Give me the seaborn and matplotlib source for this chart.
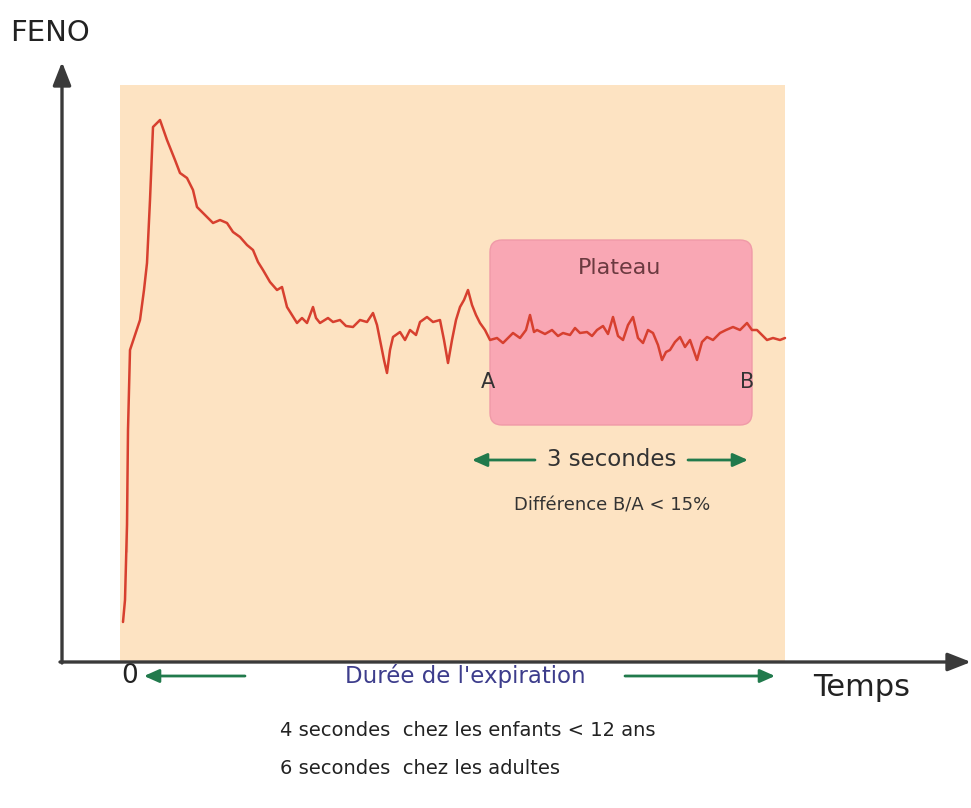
import numpy as np
import pandas as pd
import matplotlib
matplotlib.use("Agg")
import matplotlib.pyplot as plt
import seaborn as sns
from matplotlib.patches import Rectangle, FancyBboxPatch

# FENO trace (time and FENO in arbitrary units)
time = [1, 3, 5, 5, 5, 6, 8, 18, 22, 25, 28, 31, 38, 45, 53, 58, 65, 71, 75, 83,
        91, 98, 105, 111, 118, 125, 131, 136, 141, 148, 155, 160, 165, 170, 175,
        180, 185, 191, 194, 198, 206, 211, 218, 224, 231, 238, 245, 251, 255, 258,
        262, 265, 268, 271, 278, 283, 288, 294, 298, 305, 311, 318, 322, 326, 330,
        334, 338, 342, 346, 350, 354, 358, 363, 368, 375, 381, 386, 391, 398, 404,
        408, 412, 415, 423, 430, 436, 441, 448, 453, 458, 465, 470, 475, 481, 486,
        491, 496, 501, 506, 511, 516, 521, 526, 531, 536, 540, 544, 548, 553, 558,
        563, 568, 575, 580, 585, 591, 598, 604, 611, 618, 625, 630, 635, 640, 645,
        651, 658, 663]
feno = [40, 62, 95, 142, 175, 232, 312, 342, 372, 399, 462, 535, 542, 522, 502, 489,
        484, 472, 455, 447, 439, 442, 439, 430, 425, 417, 412, 400, 392, 380, 372,
        375, 355, 347, 339, 344, 339, 355, 344, 339, 344, 340, 342, 336, 335, 342,
        340, 349, 337, 322, 302, 289, 312, 325, 330, 322, 332, 327, 340, 345, 340,
        342, 322, 299, 322, 342, 355, 362, 372, 357, 347, 339, 332, 322, 324, 319,
        324, 329, 324, 332, 347, 330, 332, 328, 332, 326, 329, 327, 334, 329, 330,
        326, 332, 336, 328, 345, 326, 322, 337, 345, 324, 319, 332, 329, 317, 302,
        310, 312, 320, 325, 315, 322, 302, 320, 325, 322, 329, 332, 335, 332, 339,
        332, 332, 327, 322, 324, 322, 324]

# expiration window and plateau window
expiration = (0, 663)
plateau = (368, 630)

sns.set_style("white")
plt.rcParams["font.family"] = ["DejaVu Sans"]

fig = plt.figure(figsize=(9.71, 8.08), dpi=100)
ax = fig.add_axes([0, 0, 1, 1])
ax.set_xlim(-122, 849)
ax.set_ylim(-146, 662)

# shaded expiration area
ax.add_patch(Rectangle((expiration[0] - 2, 0), expiration[1] - expiration[0] + 2, 577,
                       facecolor="#fde3c2", edgecolor="none", zorder=0))

# plateau box
ax.add_patch(FancyBboxPatch((plateau[0] + 12, 237 + 12), plateau[1] - plateau[0] - 24, 185 - 24,
                            boxstyle="round,pad=12", facecolor="#f9a7b4",
                            edgecolor="#f09aa8", linewidth=1, zorder=1))

df = pd.DataFrame({"Temps": time, "FENO": feno})
sns.lineplot(data=df, x="Temps", y="FENO", sort=False, color="#d7402f",
             linewidth=1.8, ax=ax, zorder=3)
ax.axis("off")

# axes with arrow heads
axis_kw = dict(arrowstyle="-|>,head_length=1.4,head_width=0.55", color="#3a3a3a",
               lw=2.4, shrinkA=0, shrinkB=0)
ax.annotate("", xy=(-60, 600), xytext=(-60, -1), arrowprops=axis_kw, zorder=4)
ax.annotate("", xy=(849, 0), xytext=(-62, 0), arrowprops=axis_kw, zorder=4)

ax.text(-112, 629, "FENO", fontsize=21, color="#222222", ha="left", va="center")
ax.text(8, -14, "0", fontsize=19, color="#222222", ha="center", va="center")
ax.text(740, -26, "Temps", fontsize=22, color="#222222", ha="center", va="center")

# plateau labels
ax.text(498, 394, "Plateau", fontsize=16, color="#6b3a40", ha="center", va="center", zorder=5)
ax.text(366, 280, "A", fontsize=15, color="#333333", ha="center", va="center", zorder=5)
ax.text(625, 280, "B", fontsize=15, color="#333333", ha="center", va="center", zorder=5)

green = "#217a4c"
arr_kw = dict(arrowstyle="-|>,head_length=0.9,head_width=0.4", color=green, lw=2,
              shrinkA=0, shrinkB=0)
ax.annotate("", xy=(350, 202), xytext=(413, 202), arrowprops=arr_kw)
ax.annotate("", xy=(626, 202), xytext=(566, 202), arrowprops=arr_kw)
ax.text(490, 202, "3 secondes", fontsize=16.5, color="#333333", ha="center", va="center")
ax.text(490, 157, "Différence B/A < 15%", fontsize=13, color="#333333", ha="center", va="center")

# duration of expiration
ax.annotate("", xy=(22, -14), xytext=(123, -14), arrowprops=arr_kw)
ax.annotate("", xy=(653, -14), xytext=(503, -14), arrowprops=arr_kw)
ax.text(343, -14, "Durée de l'expiration", fontsize=16.5, color="#3d3d8c", ha="center", va="center")
ax.text(158, -69, "4 secondes  chez les enfants < 12 ans", fontsize=14, color="#222222",
        ha="left", va="center")
ax.text(158, -107, "6 secondes  chez les adultes", fontsize=14, color="#222222",
        ha="left", va="center")

fig.savefig("out.png", dpi=100)
